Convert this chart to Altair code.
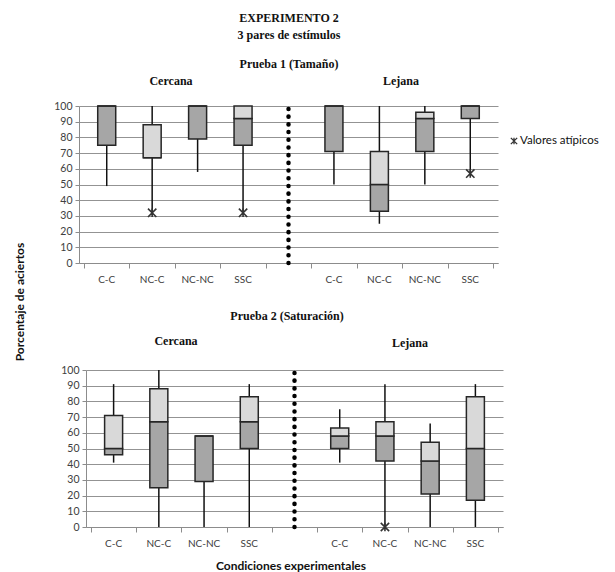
import altair as alt
import pandas as pd

# ---- data -------------------------------------------------------------
slots = [0.5, 1.5, 2.5, 3.5, 5.5, 6.5, 7.5, 8.5]
cats = ["C-C", "NC-C", "NC-NC", "SSC", "C-C", "NC-C", "NC-NC", "SSC"]
sep_slot = [4.5]

# Prueba 1 (Tamaño)
p1_wlo = [49, 32, 58, 32, 50, 25, 50, 57]
p1_q1 = [75, 67, 79, 75, 71, 33, 71, 92]
p1_med = [100, 67, 100, 92, 100, 50, 92, 100]
p1_q3 = [100, 88, 100, 100, 100, 71, 96, 100]
p1_whi = [100, 100, 100, 100, 100, 100, 100, 100]
p1_out_slot = [1.5, 3.5, 8.5]
p1_out_val = [32, 32, 57]

# Prueba 2 (Saturación)
p2_wlo = [41, 0, 0, 0, 41, 0, 0, 0]
p2_q1 = [46, 25, 29, 50, 50, 42, 21, 17]
p2_med = [50, 67, 58, 67, 58, 58, 42, 50]
p2_q3 = [71, 88, 58, 83, 63, 67, 54, 83]
p2_whi = [91, 100, 58, 91, 75, 91, 66, 91]
p2_out_slot = [6.5]
p2_out_val = [0]

y_ticks = list(range(0, 101, 10))
x_ticks = list(range(0, 10))

SERIF = "Liberation Serif"
SANS = "Lato"
STAR = "M-1,-1L1,1M-1,1L1,-1M0,-1L0,1"
H = 157


def xenc(field="slot"):
    return alt.X(f"{field}:Q",
                 scale=alt.Scale(domain=[0, 9], nice=False, zero=False),
                 axis=alt.Axis(values=x_ticks, labels=False, title=None,
                               tickSize=5, tickColor="#8c8c8c",
                               domainColor="#8c8c8c", grid=False))


def yenc(field):
    return alt.Y(f"{field}:Q",
                 scale=alt.Scale(domain=[0, 100], nice=False, zero=True),
                 axis=alt.Axis(values=y_ticks, title=None, grid=True,
                               gridColor="#939393", gridWidth=1,
                               tickSize=4, tickColor="#8c8c8c",
                               domainColor="#8c8c8c",
                               labelFont=SANS, labelFontSize=10.5,
                               labelColor="#404040", labelPadding=3))


def txt(s, x, y, font=SERIF, size=12, bold=True, angle=0, align="center"):
    return alt.Chart(pd.DataFrame({"t": [s]})).mark_text(
        font=font, fontSize=size, fontWeight="bold" if bold else "normal",
        color="#111111", angle=angle, align=align, baseline="middle"
    ).encode(x=alt.value(x), y=alt.value(y), text="t:N")


def panel(wlo, q1, med, q3, whi, out_slot, out_val, W, extra):
    df = pd.DataFrame({"slot": slots, "cat": cats, "wlo": wlo, "q1": q1,
                       "med": med, "q3": q3, "whi": whi})
    base = alt.Chart(df)
    whisk = base.mark_rule(color="#111111", strokeWidth=1.5).encode(
        x=xenc(), y=yenc("wlo"), y2="whi:Q")
    lower = base.mark_bar(size=18, color="#a6a6a6", stroke="#262626",
                          strokeWidth=1.5).encode(
        x=xenc(), y=yenc("q1"), y2="med:Q")
    upper = base.mark_bar(size=18, color="#d9d9d9", stroke="#262626",
                          strokeWidth=1.5).encode(
        x=xenc(), y=yenc("med"), y2="q3:Q")
    sep_df = pd.DataFrame({"slot": sep_slot, "lo": [0], "hi": [100]})
    sep = alt.Chart(sep_df).mark_rule(
        color="black", strokeWidth=4.5, strokeDash=[0.1, 7.6],
        strokeCap="round").encode(x=xenc(), y=yenc("lo"), y2="hi:Q")
    out_df = pd.DataFrame({"slot": out_slot, "v": out_val})
    outl = alt.Chart(out_df).mark_point(
        shape=STAR, size=70, filled=False, color="#333333",
        strokeWidth=1.6, opacity=1).encode(x=xenc(), y=yenc("v"))
    labels = base.mark_text(font=SANS, fontSize=10, color="#404040",
                            baseline="middle").encode(
        x=xenc(), y=alt.value(H + 17), text="cat:N")
    return alt.layer(whisk, lower, upper, sep, outl, labels, *extra).properties(
        width=W, height=H)


top_extra = [
    txt("EXPERIMENTO 2", 210, -88),
    txt("3 pares de estímulos", 210, -71),
    txt("Prueba 1 (Tamaño)", 210, -42),
    txt("Cercana", 92, -25),
    txt("Lejana", 322, -25),
    txt("Porcentaje de aciertos", -59, 196, font=SANS, size=12, angle=270),
    alt.Chart(pd.DataFrame({"m": ["x"]})).mark_point(
        shape=STAR, size=40, filled=False, color="#333333", strokeWidth=1.3,
        opacity=1).encode(x=alt.value(435), y=alt.value(35)),
    txt("Valores atípicos", 441, 35, font=SANS, size=11.5, bold=False,
        align="left"),
]
bottom_extra = [
    txt("Prueba 2 (Saturación)", 201, -54),
    txt("Cercana", 90, -29),
    txt("Lejana", 324, -27),
    txt("Condiciones experimentales", 205, 196, font=SANS, size=12),
]

top = panel(p1_wlo, p1_q1, p1_med, p1_q3, p1_whi, p1_out_slot, p1_out_val,
            419, top_extra)
bottom = panel(p2_wlo, p2_q1, p2_med, p2_q3, p2_whi, p2_out_slot, p2_out_val,
               417, bottom_extra)

spacer = alt.Chart(pd.DataFrame({"a": [0]})).mark_point(opacity=0).encode(
    x=alt.X("a:Q", axis=None), y=alt.Y("a:Q", axis=None)).properties(
    width=7, height=H)

bottom_row = alt.hconcat(spacer, bottom, spacing=0, bounds="flush")

chart = alt.vconcat(top, bottom_row, spacing=107, bounds="flush").properties(
    padding={"left": 6, "top": 4, "right": 5, "bottom": 2}
).configure_view(stroke=None).configure_axis(labelFlush=False)

chart.save("out.html", embed_options={"renderer": "svg", "actions": False})
